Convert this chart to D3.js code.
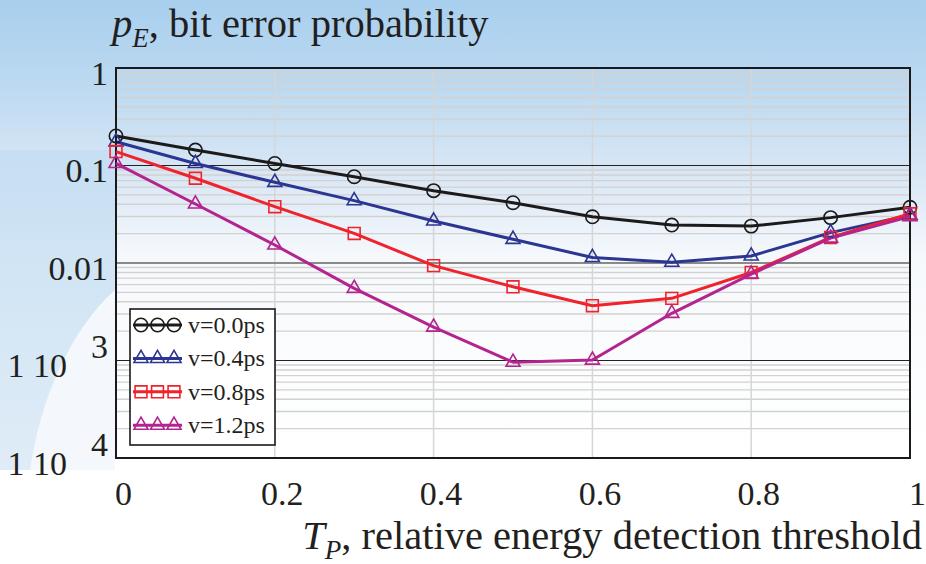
<!DOCTYPE html>
<html>
<head>
<meta charset="utf-8">
<script src="https://cdn.jsdelivr.net/npm/d3@7"></script>
<style>
  body { margin: 0; background: #fff; }
  svg { display: block; font-family: "Liberation Serif", "Times New Roman", serif; }
</style>
</head>
<body>
<div id="vis"></div>
<script>
// values
const thresholds = [0, 0.1, 0.2, 0.3, 0.4, 0.5, 0.6, 0.7, 0.8, 0.9, 1.0];
const peV00 = [0.201, 0.144, 0.105, 0.0767, 0.0552, 0.0415, 0.0298, 0.0245, 0.0239, 0.0292, 0.0373];
const peV04 = [0.175, 0.105, 0.0672, 0.0436, 0.027, 0.0175, 0.0114, 0.0102, 0.0118, 0.0205, 0.031];
const peV08 = [0.139, 0.074, 0.0378, 0.0201, 0.0094, 0.0057, 0.00365, 0.00434, 0.0080, 0.0183, 0.032];
const peV12 = [0.105, 0.0403, 0.0153, 0.0055, 0.0022, 0.00096, 0.00101, 0.00305, 0.0077, 0.018, 0.0299];
const legendLabels = ["v=0.0ps", "v=0.4ps", "v=0.8ps", "v=1.2ps"];
const xTicks = [0, 0.2, 0.4, 0.6, 0.8, 1];
const yTicks = [1e-4, 1e-3, 1e-2, 0.1, 1];
const yTickText = { 1: "1", 0.1: "0.1", 0.01: "0.01", 0.001: ["1 10", "3"], 0.0001: ["1 10", "4"] };

// looks
const lineColors = ["#1c1a1a", "#2b3592", "#f0222b", "#b3248f"];
const markerTypes = ["circle", "triangle", "square", "triangle"];

const W = 926, H = 564;
const m = { left: 116, right: 910, top: 68, bottom: 458 };

const svg = d3.select("#vis").append("svg")
    .attr("width", W)
    .attr("height", H);

// background (blue slide-ish gradient)
const defs = svg.append("defs");
const bg = defs.append("linearGradient").attr("id", "bg")
    .attr("x1", 0).attr("y1", 0).attr("x2", 0).attr("y2", 1);
bg.append("stop").attr("offset", "0%").attr("stop-color", "#a8cfee");
bg.append("stop").attr("offset", "15%").attr("stop-color", "#bcd9f1");
bg.append("stop").attr("offset", "33%").attr("stop-color", "#dde9f6");
bg.append("stop").attr("offset", "46%").attr("stop-color", "#f6f9fc");
bg.append("stop").attr("offset", "80%").attr("stop-color", "#ffffff");
svg.append("rect").attr("width", W).attr("height", H).attr("fill", "url(#bg)");

const side = defs.append("linearGradient").attr("id", "side")
    .attr("x1", 0).attr("y1", 0).attr("x2", 0).attr("y2", 1);
side.append("stop").attr("offset", "0%").attr("stop-color", "#c4def2");
side.append("stop").attr("offset", "100%").attr("stop-color", "#dceaf6");
svg.append("path")
    .attr("d", "M0,150 L115,150 L115,470 L0,470 Z")
    .attr("fill", "url(#side)").attr("opacity", 0.9);
svg.append("path")
    .attr("d", "M30,470 C40,400 70,330 115,290 L115,470 Z")
    .attr("fill", "#f4f8fc");

const x = d3.scaleLinear().domain([0, 1]).range([m.left, m.right]);
const y = d3.scaleLog().domain([1e-4, 1]).range([m.bottom, m.top]);

// minor grid
const minor = y.ticks().filter(v => Math.abs(Math.log10(v) - Math.round(Math.log10(v))) > 1e-6);
svg.append("g").selectAll("line").data(minor).join("line")
    .attr("x1", m.left).attr("x2", m.right)
    .attr("y1", d => y(d)).attr("y2", d => y(d))
    .attr("stroke", "#d3d1cf").attr("stroke-width", 1.4);

// vertical grid
svg.append("g").selectAll("line").data(xTicks.slice(1, -1)).join("line")
    .attr("x1", d => x(d)).attr("x2", d => x(d))
    .attr("y1", m.top).attr("y2", m.bottom)
    .attr("stroke", "#d6d6d6").attr("stroke-width", 1.5);

// decade lines
const decStyle = { 0.1: ["#222", 1.2], 0.01: ["#8a8a8a", 2.2], 0.001: ["#222", 1.2] };
svg.append("g").selectAll("line").data([0.1, 0.01, 0.001]).join("line")
    .attr("x1", m.left).attr("x2", m.right)
    .attr("y1", d => y(d)).attr("y2", d => y(d))
    .attr("stroke", d => decStyle[d][0]).attr("stroke-width", d => decStyle[d][1]);

// frame
svg.append("rect")
    .attr("x", m.left).attr("y", m.top)
    .attr("width", m.right - m.left).attr("height", m.bottom - m.top)
    .attr("fill", "none").attr("stroke", "#1a1a1a").attr("stroke-width", 2);

// x axis labels
const xAxis = svg.append("g")
    .attr("transform", `translate(0,${m.bottom})`)
    .call(d3.axisBottom(x).tickValues(xTicks).tickSize(0).tickPadding(23)
        .tickFormat(d => d === 0 ? "0" : d === 1 ? "1" : d3.format(".1f")(d)));
xAxis.select(".domain").remove();
xAxis.selectAll("text")
    .attr("font-family", "Liberation Serif, serif").attr("font-size", 34)
    .attr("fill", "#231f20").attr("dx", 7);

// y axis labels
const yAxis = svg.append("g")
    .attr("transform", `translate(${m.left},0)`)
    .call(d3.axisLeft(y).tickValues(yTicks).tickSize(0).tickPadding(8).tickFormat(() => ""));
yAxis.select(".domain").remove();
yAxis.selectAll("text")
    .attr("font-family", "Liberation Serif, serif").attr("font-size", 34)
    .attr("fill", "#231f20").attr("dy", 16)
    .each(function (d) {
        const key = +d.toPrecision(1);
        const t = yTickText[key];
        const el = d3.select(this);
        if (Array.isArray(t)) {
            el.append("tspan").text(t[0]);
            el.append("tspan").attr("dx", 24).attr("dy", -19).text(t[1]);
        } else {
            el.text(t);
        }
    });

// series
const series = [peV00, peV04, peV08, peV12].map((vals, i) => ({
    name: legendLabels[i],
    color: lineColors[i],
    marker: markerTypes[i],
    points: vals.map((v, j) => ({ t: thresholds[j], pe: v }))
}));

const line = d3.line().x(d => x(d.t)).y(d => y(d.pe));

const symbolOf = { circle: d3.symbolCircle, triangle: d3.symbolTriangle, square: d3.symbolSquare };
const sizeOf = { circle: 140, triangle: 85, square: 140 };

function drawMarker(g, type, color) {
    g.append("path")
        .attr("d", d3.symbol().type(symbolOf[type]).size(sizeOf[type])())
        .attr("fill", "none")
        .attr("stroke", color)
        .attr("stroke-width", 1.6);
}

const plot = svg.append("g");
series.forEach(s => {
    plot.append("path")
        .datum(s.points)
        .attr("d", line)
        .attr("fill", "none")
        .attr("stroke", s.color)
        .attr("stroke-width", 3)
        .attr("stroke-linejoin", "round");
});
series.forEach(s => {
    plot.append("g").selectAll("g").data(s.points).join("g")
        .attr("transform", d => `translate(${x(d.t)},${y(d.pe)})`)
        .each(function () { drawMarker(d3.select(this), s.marker, s.color); });
});

// legend
const lg = svg.append("g");
lg.append("rect")
    .attr("x", 130).attr("y", 309).attr("width", 145).attr("height", 136)
    .attr("fill", "#fff").attr("stroke", "#1a1a1a").attr("stroke-width", 1.6);
series.forEach((s, i) => {
    const cy = 325 + i * 33.4;
    const row = lg.append("g").attr("transform", `translate(0,${cy})`);
    row.append("line").attr("x1", 133).attr("x2", 182).attr("y1", 0).attr("y2", 0)
        .attr("stroke", s.color).attr("stroke-width", 3);
    [141, 157.5, 174].forEach(mx => {
        drawMarker(row.append("g").attr("transform", `translate(${mx},0)`), s.marker, s.color);
    });
    row.append("text").attr("x", 188).attr("y", 8)
        .attr("font-size", 24).attr("fill", "#231f20")
        .text(s.name);
});

// axis titles
const yt = svg.append("text").attr("x", 112).attr("y", 37)
    .attr("font-size", 40.5).attr("fill", "#231f20");
yt.append("tspan").attr("font-style", "italic").text("p");
yt.append("tspan").attr("font-style", "italic").attr("font-size", 27).attr("dy", 10).text("E");
yt.append("tspan").attr("dy", -10).text(", bit error probability");

const xt = svg.append("text").attr("x", 922).attr("y", 549)
    .attr("text-anchor", "end")
    .attr("font-size", 40.5).attr("fill", "#231f20");
xt.append("tspan").attr("font-style", "italic").text("T");
xt.append("tspan").attr("font-style", "italic").attr("font-size", 27).attr("dy", 10).text("P");
xt.append("tspan").attr("dy", -10).text(", relative energy detection threshold");
</script>
</body>
</html>
